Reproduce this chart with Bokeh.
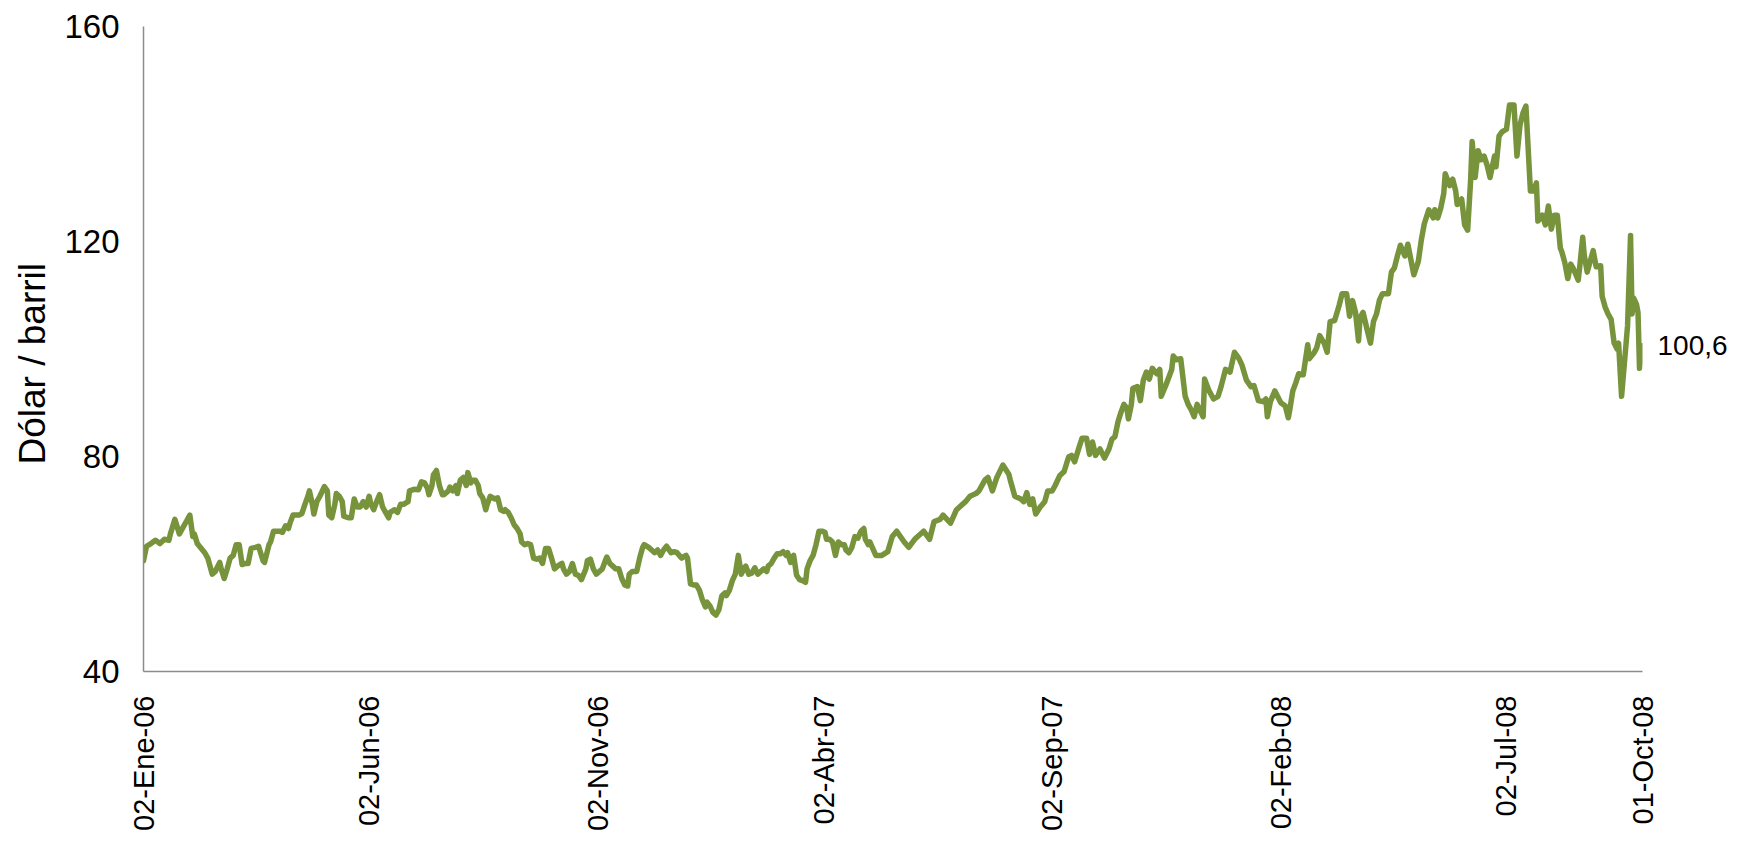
import numpy as np
import pandas as pd
from bokeh.plotting import figure
from bokeh.models import (Range1d, FixedTicker, CustomJSTickFormatter, ColumnDataSource,
                          LinearAxis, Title)
from bokeh.embed import file_html
from bokeh.resources import INLINE

# ---------------- datos ----------------
fecha_inicio = "2006-01-02"
# dias transcurridos desde 02-Ene-06
dias = [
    0, 2, 5, 8, 11, 14, 17, 18, 21, 24,
    27, 29, 31, 33, 34, 36, 38, 41, 43, 45,
    46, 48, 51, 52, 54, 56, 58, 60, 62, 64,
    66, 68, 70, 72, 75, 77, 80, 81, 84, 85,
    87, 91, 93, 95, 97, 98, 100, 104, 106, 108,
    110, 111, 113, 114, 116, 118, 121, 123, 124, 126,
    128, 129, 131, 133, 134, 137, 139, 141, 143, 145,
    147, 149, 151, 152, 154, 156, 158, 160, 162, 164,
    165, 168, 170, 172, 174, 177, 178, 181, 184, 186,
    188, 190, 191, 193, 194, 196, 198, 200, 201, 204,
    205, 207, 209, 210, 212, 214, 216, 217, 219, 220,
    222, 224, 225, 227, 229, 230, 232, 235, 237, 239,
    241, 242, 244, 246, 248, 250, 252, 253, 255, 257,
    259, 261, 263, 265, 267, 269, 271, 273, 275, 277,
    280, 281, 283, 285, 287, 289, 291, 293, 296, 297,
    299, 301, 303, 305, 307, 309, 310, 312, 314, 316,
    318, 320, 322, 324, 325, 327, 330, 332, 334, 335,
    338, 340, 342, 344, 346, 348, 350, 351, 353, 355,
    357, 360, 363, 364, 366, 368, 370, 372, 374, 376,
    377, 379, 381, 383, 385, 387, 389, 390, 392, 394,
    396, 398, 400, 402, 403, 405, 407, 409, 411, 413,
    415, 417, 418, 420, 422, 424, 426, 428, 430, 431,
    433, 435, 437, 439, 441, 443, 444, 446, 448, 450,
    452, 454, 456, 457, 459, 461, 463, 465, 467, 469,
    470, 472, 474, 476, 478, 480, 482, 483, 485,
    486, 490, 494, 498, 501, 504, 509, 512, 516, 522,
    526, 529, 533, 535, 540, 544, 550, 553, 557, 559,
    563, 565, 568, 571, 575, 579, 580, 583, 587, 589,
    591, 593, 595, 597, 600, 603, 605, 608, 610, 613,
    616, 619, 621, 623, 626, 628, 631, 633, 635, 637,
    640, 643, 646, 648, 650, 652, 654, 656, 658, 659,
    661, 662, 665, 667, 669, 671, 673, 675, 678, 680,
    681, 684, 686, 688, 689, 691, 694, 697, 699, 701,
    703, 705, 709, 710, 713, 716, 719, 721, 724, 727,
    730, 733, 735, 738, 741, 743, 746, 749, 751, 752,
    754, 757, 761, 764, 766, 767, 769, 771, 773, 776,
    779, 780, 783, 785, 787, 790, 792, 794, 797, 800,
    802, 805, 807, 809, 811, 813, 814, 816, 819, 821,
    823, 825, 827, 829, 833, 835, 837, 839, 841, 844,
    846, 850, 853, 855, 857, 860, 863, 864, 866, 868,
    870, 871, 874, 876, 878, 879, 882, 884, 886, 888,
    889, 891, 893, 895, 897, 899, 901, 903, 904, 905,
    907, 909, 912, 914, 917, 919, 921, 923, 925, 928,
    930, 932, 933, 936, 938, 940, 942, 944, 946, 948,
    949, 951, 953, 955, 957, 960, 961, 963, 964, 966,
    968, 970, 972, 975, 976, 978, 980, 982, 984, 986,
    987, 989, 991, 993, 995, 996, 997, 999, 1000, 1001, 1003,
]
# precio (dolar / barril)
precios = [
    60.6, 63.3, 63.8, 64.4, 63.8, 64.6, 64.4, 65.6, 68.3, 65.6,
    67.1, 68.1, 69.1, 65.1, 65.6, 63.8, 63.1, 62.1, 61.1, 59.1,
    58.1, 58.6, 60.3, 59.1, 57.3, 59.1, 61.1, 61.6, 63.6, 63.6,
    59.9, 60.1, 60.1, 62.9, 63.1, 63.3, 60.6, 60.3, 63.6, 64.1,
    66.1, 66.1, 65.9, 67.1, 66.6, 67.6, 69.1, 69.1, 69.4, 71.1,
    72.6, 73.6, 71.1, 69.3, 71.6, 72.6, 74.4, 73.6, 69.1, 68.6,
    71.1, 73.1, 72.6, 71.6, 68.9, 68.6, 68.6, 72.1, 70.6, 70.6,
    71.6, 70.6, 72.6, 71.3, 70.1, 71.6, 72.9, 70.6, 69.6, 68.6,
    69.6, 70.1, 69.6, 71.1, 71.1, 71.6, 73.6, 73.9, 73.8, 75.3,
    75.1, 74.1, 72.9, 74.6, 76.6, 77.4, 74.6, 72.9, 72.9, 73.6,
    74.3, 73.6, 74.6, 73.1, 75.6, 76.1, 74.6, 77.0, 75.1, 75.6,
    75.6, 74.6, 73.1, 72.3, 70.1, 71.1, 72.6, 72.1, 72.3, 70.1,
    69.8, 70.1, 69.6, 68.6, 67.3, 66.6, 65.6, 64.1, 63.6, 63.8,
    63.6, 61.1, 60.9, 61.1, 60.1, 62.9, 62.9, 61.1, 59.1, 59.6,
    60.1, 59.1, 58.1, 58.6, 60.1, 58.1, 57.9, 57.1, 59.1, 60.6,
    60.9, 59.1, 58.1, 58.6, 59.1, 60.6, 61.3, 60.1, 59.6, 59.1,
    59.1, 57.3, 56.1, 55.9, 58.1, 58.6, 58.6, 61.1, 63.1, 63.6,
    63.1, 62.6, 62.1, 62.6, 61.6, 62.6, 63.3, 62.9, 62.1, 62.3,
    62.1, 61.1, 61.6, 61.1, 56.3, 56.1, 56.1, 55.1, 53.3, 52.0,
    52.9, 52.2, 51.0, 50.5, 51.5, 54.1, 54.6, 54.1, 55.1, 56.9,
    58.1, 61.6, 58.1, 59.3, 59.6, 58.1, 58.3, 59.3, 58.1, 58.6,
    59.1, 58.6, 59.6, 60.1, 61.1, 61.9, 61.9, 62.3, 61.6, 62.1,
    60.3, 61.6, 57.9, 57.1, 56.9, 56.6, 59.1, 60.6, 61.6, 63.6,
    66.1, 66.1, 65.9, 64.6, 64.6, 64.1, 61.6, 64.1, 63.6, 63.6,
    62.6, 62.1, 63.1, 65.1, 64.8, 66.1, 66.6, 64.6, 63.6,
    64.1, 61.6, 61.6, 62.3, 65.1, 66.1, 64.1, 63.1, 64.6, 66.1,
    64.6, 67.9, 68.3, 69.1, 67.6, 70.1, 71.6, 72.6, 73.1, 73.6,
    75.6, 76.1, 73.6, 76.1, 78.4, 76.7, 75.6, 72.6, 72.1, 71.6,
    73.3, 71.1, 72.1, 69.3, 70.6, 71.6, 73.6, 73.6, 74.6, 76.4,
    77.2, 79.9, 80.2, 79.0, 81.7, 83.4, 83.4, 80.4, 82.7, 80.2,
    81.4, 79.7, 81.4, 83.2, 83.7, 86.4, 88.2, 89.7, 89.0, 87.0,
    89.7, 92.7, 93.0, 90.4, 94.2, 95.7, 94.4, 96.4, 95.4, 96.2,
    91.2, 93.2, 94.7, 96.2, 98.7, 98.0, 98.2, 91.2, 89.7, 88.7,
    87.4, 89.7, 87.4, 94.4, 92.2, 90.7, 91.2, 93.0, 96.2, 95.7,
    99.4, 98.2, 97.0, 94.2, 93.0, 93.2, 90.4, 90.2, 90.7, 87.4,
    90.2, 92.2, 90.0, 89.4, 87.2, 88.7, 92.2, 93.7, 95.4, 95.2,
    100.8, 98.2, 99.2, 100.2, 102.5, 101.1, 99.4, 105.1, 105.3, 108.1,
    110.3, 110.3, 106.1, 109.0, 106.8, 101.5, 105.8, 106.8, 103.3, 101.1,
    105.1, 106.5, 109.1, 110.3, 110.3, 114.3, 115.1, 117.3, 119.3, 117.3,
    119.5, 113.8, 116.3, 120.3, 123.3, 125.9, 124.4, 125.9, 124.4, 126.2,
    128.9, 132.6, 130.4, 131.6, 129.4, 126.9, 127.9, 123.1, 122.1, 131.4,
    138.6, 131.9, 136.9, 135.2, 135.9, 134.2, 131.9, 134.6, 135.9, 133.9,
    139.6, 140.4, 140.9, 145.4, 145.4, 135.9, 141.6, 143.9, 145.2, 129.4,
    129.4, 130.9, 123.8, 124.9, 123.1, 126.6, 122.3, 124.9, 124.9, 118.8,
    118.1, 116.1, 113.1, 115.8, 114.8, 112.8, 115.3, 120.8, 117.5, 114.3,
    116.3, 118.3, 115.3, 115.5, 109.8, 107.8, 106.5, 105.5, 101.1, 100.0,
    101.1, 91.2, 97.7, 104.3, 121.1, 106.5, 109.5, 108.3, 106.8, 96.4, 100.6,
]
assert len(dias) == len(precios)

fechas_etiquetas = ["2006-01-02", "2006-06-02", "2006-11-02", "2007-04-02",
                    "2007-09-02", "2008-02-02", "2008-07-02", "2008-10-01"]
textos_etiquetas = ["02-Ene-06", "02-Jun-06", "02-Nov-06", "02-Abr-07",
                    "02-Sep-07", "02-Feb-08", "02-Jul-08", "01-Oct-08"]
ticks_y = [40, 80, 120, 160]
titulo_eje_y = "Dólar / barril"
texto_ultimo = f"{precios[-1]:.1f}".replace(".", ",")

# ---------------- estilo ----------------
FUENTE = "Liberation Sans"
VERDE = "#77933C"
GRIS = "#8C8C8C"

fechas = pd.Timestamp(fecha_inicio) + pd.to_timedelta(dias, unit="D")
src = ColumnDataSource(dict(fecha=fechas, precio=precios))
ticks_ms = [float(pd.Timestamp(f).value // 10**6) for f in fechas_etiquetas]

p = figure(
    width=1730, height=833,
    x_axis_type="datetime",
    x_range=Range1d(pd.Timestamp(fecha_inicio), pd.Timestamp(fechas_etiquetas[-1])),
    y_range=Range1d(ticks_y[0], ticks_y[-1]),
    output_backend="svg", toolbar_location=None,
    min_border_left=143, min_border_right=86, min_border_top=26, min_border_bottom=160,
)
p.background_fill_color = "white"
p.border_fill_color = "white"
p.outline_line_color = None
p.xgrid.visible = False
p.ygrid.visible = False

p.line("fecha", "precio", source=src, line_color=VERDE, line_width=5.5,
       line_join="round", line_cap="round")

xa = p.xaxis[0]
xa.ticker = FixedTicker(ticks=ticks_ms)
xa.formatter = CustomJSTickFormatter(
    args=dict(valores=ticks_ms, textos=textos_etiquetas),
    code="const i = valores.indexOf(tick); return i >= 0 ? textos[i] : '';")
xa.major_label_orientation = np.pi / 2
xa.major_label_standoff = 24
xa.major_label_text_font_size = "29px"

ya = p.yaxis[0]
ya.ticker = FixedTicker(ticks=ticks_y)
ya.major_label_standoff = 24
ya.major_label_text_font_size = "33px"

for ax in (xa, ya):
    ax.major_tick_out = 0
    ax.major_tick_in = 0
    ax.minor_tick_out = 0
    ax.minor_tick_in = 0
    ax.axis_line_color = GRIS
    ax.axis_line_width = 1.5
    ax.major_label_text_font = FUENTE
    ax.major_label_text_color = "#000000"

# etiqueta del ultimo valor, a la derecha del final de la serie
eje_der = LinearAxis(
    ticker=FixedTicker(ticks=[precios[-1]]),
    formatter=CustomJSTickFormatter(args=dict(t=texto_ultimo), code="return t;"),
    axis_line_color=None, major_tick_out=0, major_tick_in=0,
    minor_tick_out=0, minor_tick_in=0, major_label_standoff=15,
    major_label_text_font=FUENTE, major_label_text_font_size="28px",
    major_label_text_color="#000000",
)
p.add_layout(eje_der, "right")

# titulo del eje y
titulo = Title(
    text=titulo_eje_y, align="left", offset=207, standoff=16,
    text_font=FUENTE, text_font_size="37px", text_font_style="normal",
    text_color="#000000", vertical_align="middle",
)
p.add_layout(titulo, "left")

open("out.html", "w").write(file_html(p, INLINE))
